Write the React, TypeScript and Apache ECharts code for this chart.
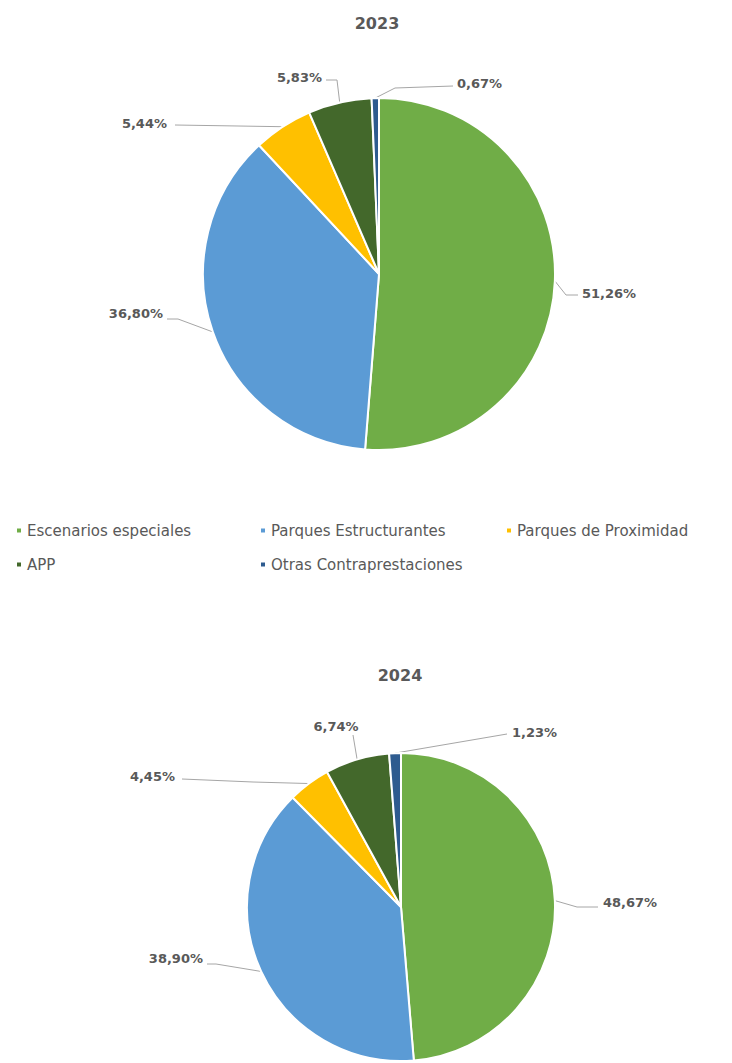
import React, { useEffect, useRef } from "react";
import * as echarts from "echarts";

const categories = [
  "Escenarios especiales",
  "Parques Estructurantes",
  "Parques de Proximidad",
  "APP",
  "Otras Contraprestaciones",
];
const values2023 = [51.26, 36.8, 5.44, 5.83, 0.67];
const values2024 = [48.67, 38.9, 4.45, 6.74, 1.23];
const years = ["2023", "2024"];
const colors = ["#70AD47", "#5B9BD5", "#FFC000", "#43682B", "#2E5B8F"];

// Label placement (styling only): label anchor, alignment and guide-line bends
type Place = { x: number; y: number; align: string; bend: number[][] };
const placement2023: Place[] = [
  { x: 582, y: 293, align: "left", bend: [[566, 295], [578, 295]] },
  { x: 163, y: 313, align: "right", bend: [[178, 319], [167, 319]] },
  { x: 167, y: 123, align: "right", bend: [[175, 125]] },
  { x: 322, y: 77, align: "right", bend: [[337, 80], [326, 80]] },
  { x: 457, y: 83, align: "left", bend: [[395, 88], [453, 86]] },
];
const placement2024: Place[] = [
  { x: 603, y: 902, align: "left", bend: [[577, 907], [598, 907]] },
  { x: 203, y: 958, align: "right", bend: [[216, 964], [207, 964]] },
  { x: 175, y: 776, align: "right", bend: [[253, 782], [182, 779]] },
  { x: 336, y: 726, align: "center", bend: [[353, 735]] },
  { x: 512, y: 732, align: "left", bend: [[507, 734]] },
];
const placements = [placement2023, placement2024];

const fmt = (v: number) => v.toFixed(2).replace(".", ",") + "%";

export default function App() {
  const ref = useRef<HTMLDivElement>(null);
  useEffect(() => {
    document.body.style.margin = "0";
    if (!ref.current) return;
    const chart = echarts.init(ref.current, null, { renderer: "svg" });

    const makeSeries = (idx: number, values: number[], center: number[], radius: number) => ({
      type: "pie",
      name: years[idx],
      center,
      radius,
      startAngle: 90,
      clockwise: true,
      avoidLabelOverlap: false,
      itemStyle: { borderColor: "#ffffff", borderWidth: 2 },
      label: {
        show: true,
        position: "outer",
        formatter: (p: any) => fmt(p.value),
        fontFamily: "DejaVu Sans",
        fontWeight: "bold",
        fontSize: 13,
        color: "#595959",
      },
      labelLine: { show: true, length: 10, length2: 10, lineStyle: { color: "#A6A6A6", width: 1 } },
      labelLayout: (params: any) => {
        const p = placements[idx][params.dataIndex];
        const pts = params.labelLinePoints;
        const anchor = pts && pts[0] ? pts[0] : p.bend[0];
        return {
          x: p.x,
          y: p.y,
          align: p.align,
          verticalAlign: "middle",
          labelLinePoints: [anchor, ...p.bend],
        };
      },
      data: categories.map((c, i) => ({ name: c, value: values[i], itemStyle: { color: colors[i] } })),
    });

    const legendCommon = {
      orient: "vertical",
      icon: "rect",
      itemWidth: 6,
      itemHeight: 6,
      itemGap: 19,
      textStyle: { fontFamily: "DejaVu Sans", fontSize: 15, color: "#595959" },
      selectedMode: false,
    };

    chart.setOption({
      animation: false,
      color: colors,
      graphic: [
        {
          type: "text",
          x: 377,
          y: 23,
          style: {
            text: years[0],
            align: "center",
            verticalAlign: "middle",
            fontFamily: "DejaVu Sans",
            fontWeight: "bold",
            fontSize: 16,
            fill: "#595959",
          },
        },
        {
          type: "text",
          x: 400,
          y: 675,
          style: {
            text: years[1],
            align: "center",
            verticalAlign: "middle",
            fontFamily: "DejaVu Sans",
            fontWeight: "bold",
            fontSize: 16,
            fill: "#595959",
          },
        },
      ],
      legend: [
        { ...legendCommon, left: 10, top: 518, data: [categories[0], categories[3]] },
        { ...legendCommon, left: 254, top: 518, data: [categories[1], categories[4]] },
        { ...legendCommon, left: 500, top: 518, data: [categories[2]] },
      ],
      series: [
        makeSeries(0, values2023, [379, 274], 176),
        makeSeries(1, values2024, [401, 907], 154),
      ],
    });
    return () => chart.dispose();
  }, []);
  return <div ref={ref} style={{ width: 732, height: 1063 }} />;
}
